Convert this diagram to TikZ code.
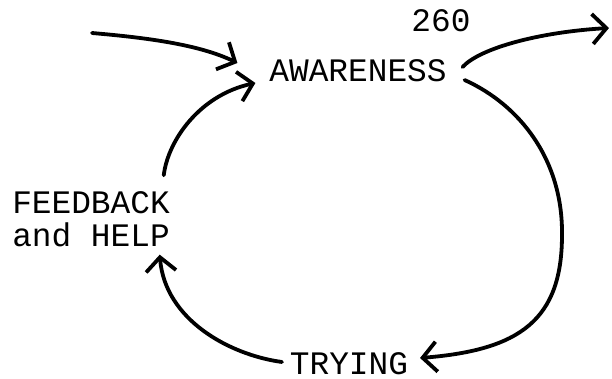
\documentclass[tikz,border=0pt]{standalone}
\usepackage{fontspec}
\newfontfamily\typewriterfont{Liberation Mono}
\usetikzlibrary{arrows.meta}

\begin{document}
\begin{tikzpicture}[
	x=0.5pt,
	y=-0.5pt,
	stagelabel/.style={
		font=\typewriterfont\fontsize{16.4}{16.5}\selectfont,
		inner sep=0pt,
		outer sep=0pt
	},
	handarrow/.style={
		-{Straight Barb[length=7pt,width=15pt]},
		line width=1.9pt,
		line cap=round,
		line join=round
	}
	]
	
	\useasboundingbox (0,0) rectangle (612,379);
	
	\node[stagelabel] (pagenum) at (441,21) {260};
	
	\node[stagelabel] (aware) at (358,71) {AWARENESS};
	
	\node[
	stagelabel,
	align=left
	]
	(feedback) at (91,219)
	{FEEDBACK\\and HELP};
	
	\node[stagelabel] (trying) at (349,364) {TRYING};
	
	\coordinate (source) at (92,33);
	\coordinate (sink) at (609,28);
	
	% coming in
	\draw[handarrow]
	(source) .. controls (150,38) and (200,45) .. ([xshift=-16pt,yshift=4pt]aware.west);
	
	% the loop
	\draw[handarrow]
	([xshift=9pt,yshift=-4.5pt]aware.east) .. controls (520,105) and (563,160) .. (562,235)
	.. controls (562,320) and (520,350) .. ([xshift=6pt,yshift=3pt]trying.east);
	
	\draw[handarrow]
	([xshift=-4pt,yshift=1pt]trying.west) .. controls (230,355) and (165,320) .. ([xshift=-5pt,yshift=-4pt]feedback.south east);
	
	\draw[handarrow]
	([xshift=-3pt,yshift=8pt]feedback.north east) .. controls (168,140) and (200,95) .. ([xshift=-7pt,yshift=-6pt]aware.west);
	
	% going out
	\draw[handarrow]
	([xshift=8pt,yshift=2pt]aware.east) .. controls (480,48) and (540,32) .. (sink);
	
\end{tikzpicture}
\end{document}
